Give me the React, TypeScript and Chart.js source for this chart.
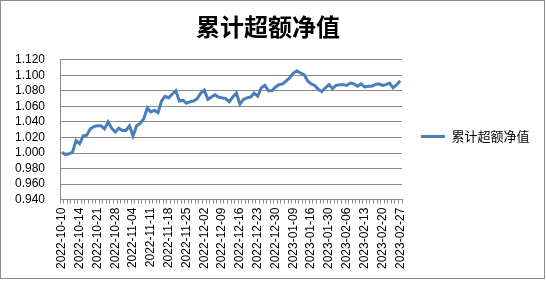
import React, { useEffect, useRef } from "react";
import { Chart, registerables } from "chart.js";

Chart.register(...registerables);

const TITLE = "累计超额净值";
const SERIES_NAME = "累计超额净值";

const dates: string[] = [
  "2022-10-10", "2022-10-10", "2022-10-11", "2022-10-12", "2022-10-13", "2022-10-14",
  "2022-10-17", "2022-10-18", "2022-10-19", "2022-10-20", "2022-10-21",
  "2022-10-24", "2022-10-25", "2022-10-26", "2022-10-27", "2022-10-28",
  "2022-10-31", "2022-11-01", "2022-11-02", "2022-11-03", "2022-11-04",
  "2022-11-07", "2022-11-08", "2022-11-09", "2022-11-10", "2022-11-11",
  "2022-11-14", "2022-11-15", "2022-11-16", "2022-11-17", "2022-11-18",
  "2022-11-21", "2022-11-22", "2022-11-23", "2022-11-24", "2022-11-25",
  "2022-11-28", "2022-11-29", "2022-11-30", "2022-12-01", "2022-12-02",
  "2022-12-05", "2022-12-06", "2022-12-07", "2022-12-08", "2022-12-09",
  "2022-12-12", "2022-12-13", "2022-12-14", "2022-12-15", "2022-12-16",
  "2022-12-19", "2022-12-20", "2022-12-21", "2022-12-22", "2022-12-23",
  "2022-12-26", "2022-12-27", "2022-12-28", "2022-12-29", "2022-12-30",
  "2023-01-03", "2023-01-04", "2023-01-05", "2023-01-06", "2023-01-09",
  "2023-01-10", "2023-01-11", "2023-01-12", "2023-01-13", "2023-01-16",
  "2023-01-17", "2023-01-18", "2023-01-19", "2023-01-20", "2023-01-30",
  "2023-01-31", "2023-02-01", "2023-02-02", "2023-02-03", "2023-02-06",
  "2023-02-07", "2023-02-08", "2023-02-09", "2023-02-10", "2023-02-13",
  "2023-02-14", "2023-02-15", "2023-02-16", "2023-02-17", "2023-02-20",
  "2023-02-21", "2023-02-22", "2023-02-23", "2023-02-24", "2023-02-27",
];

const navValues: number[] = [
  1.001, 0.998, 0.999, 1.001, 1.016, 1.012, 1.022, 1.023, 1.031, 1.034,
  1.035, 1.035, 1.031, 1.040, 1.032, 1.027, 1.032, 1.029, 1.029, 1.035,
  1.022, 1.035, 1.038, 1.044, 1.058, 1.053, 1.055, 1.052, 1.067, 1.073,
  1.071, 1.076, 1.080, 1.067, 1.068, 1.064, 1.066, 1.067, 1.070, 1.077,
  1.081, 1.069, 1.072, 1.075, 1.072, 1.071, 1.070, 1.066, 1.072, 1.077,
  1.063, 1.069, 1.071, 1.072, 1.077, 1.073, 1.084, 1.087, 1.080, 1.080,
  1.085, 1.088, 1.089, 1.093, 1.097, 1.103, 1.106, 1.103, 1.101, 1.093,
  1.089, 1.087, 1.082, 1.079, 1.084, 1.088, 1.083, 1.087, 1.088, 1.088,
  1.087, 1.090, 1.089, 1.086, 1.089, 1.085, 1.086, 1.086, 1.088, 1.089,
  1.087, 1.088, 1.090, 1.084, 1.088, 1.093,
];

const Y_MIN = 0.94;
const Y_MAX = 1.12;
const Y_STEP = 0.02;
const LABEL_EVERY = 5;

const LINE_COLOR = "#4a7ebb";
const GRID_COLOR = "#8a8a8a";
const FONT = "'Liberation Sans', Arial, sans-serif";
const CJK_FONT = "'Noto Sans CJK SC', sans-serif";

const borderPlugin = {
  id: "frame",
  beforeDraw(chart: any) {
    const ctx = chart.ctx;
    ctx.save();
    ctx.fillStyle = "#ffffff";
    ctx.fillRect(0, 0, chart.width, chart.height);
    ctx.restore();
  },
  afterDraw(chart: any) {
    const ctx = chart.ctx;
    ctx.save();
    ctx.strokeStyle = "#8c8c8c";
    ctx.lineWidth = 1;
    ctx.strokeRect(0.5, 0.5, 544, 278);
    ctx.restore();
  },
};

export default function App() {
  const ref = useRef<HTMLCanvasElement | null>(null);

  useEffect(() => {
    document.body.style.margin = "0";
    const canvas = ref.current;
    if (!canvas) return;
    const chart = new Chart(canvas, {
      type: "line",
      data: {
        labels: dates,
        datasets: [
          {
            label: SERIES_NAME,
            data: navValues,
            borderColor: LINE_COLOR,
            backgroundColor: LINE_COLOR,
            borderWidth: 3,
            pointRadius: 0,
            tension: 0,
            fill: false,
          },
        ],
      },
      options: {
        responsive: false,
        animation: false,
        devicePixelRatio: 1,
        layout: { padding: { left: 0, right: 10, top: 0, bottom: 8 } },
        plugins: {
          tooltip: { enabled: false },
          title: {
            display: true,
            text: TITLE,
            color: "#000",
            font: { family: CJK_FONT, size: 24, weight: "bold", lineHeight: 1.2 },
            padding: { top: 12, bottom: 19 },
          },
          legend: {
            display: true,
            position: "right",
            labels: {
              color: "#000",
              boxWidth: 24,
              boxHeight: 3,
              padding: 19,
              font: { family: CJK_FONT, size: 13 },
              generateLabels: (c: any) =>
                Chart.defaults.plugins.legend.labels
                  .generateLabels(c)
                  .map((l: any) => ({ ...l, lineWidth: 0, fillStyle: LINE_COLOR, strokeStyle: LINE_COLOR })),
            },
          },
        },
        scales: {
          x: {
            type: "category",
            offset: true,
            grid: {
              display: true,
              offset: true,
              drawOnChartArea: false,
              drawTicks: true,
              tickLength: 4,
              color: GRID_COLOR,
            },
            border: { display: true, color: GRID_COLOR, width: 1 },
            ticks: {
              autoSkip: false,
              maxRotation: 90,
              minRotation: 90,
              padding: 4,
              color: "#000",
              font: { family: FONT, size: 12 },
              callback: function (this: any, value: any, index: number) {
                return index % LABEL_EVERY === 0 ? this.getLabelForValue(value) : "";
              },
            },
          },
          y: {
            type: "linear",
            min: Y_MIN,
            max: Y_MAX,
            grid: { color: GRID_COLOR, drawTicks: false, lineWidth: 1 },
            border: { display: true, color: GRID_COLOR, width: 1 },
            ticks: {
              autoSkip: false,
              stepSize: Y_STEP,
              padding: 15,
              color: "#000",
              font: { family: FONT, size: 12 },
              callback: (v: any) => Number(v).toFixed(3),
            },
          },
        },
      },
      plugins: [borderPlugin],
    });
    return () => chart.destroy();
  }, []);

  return (
    <div style={{ width: 546, height: 281 }}>
      <canvas ref={ref} width={546} height={281} style={{ display: "block" }} />
    </div>
  );
}
